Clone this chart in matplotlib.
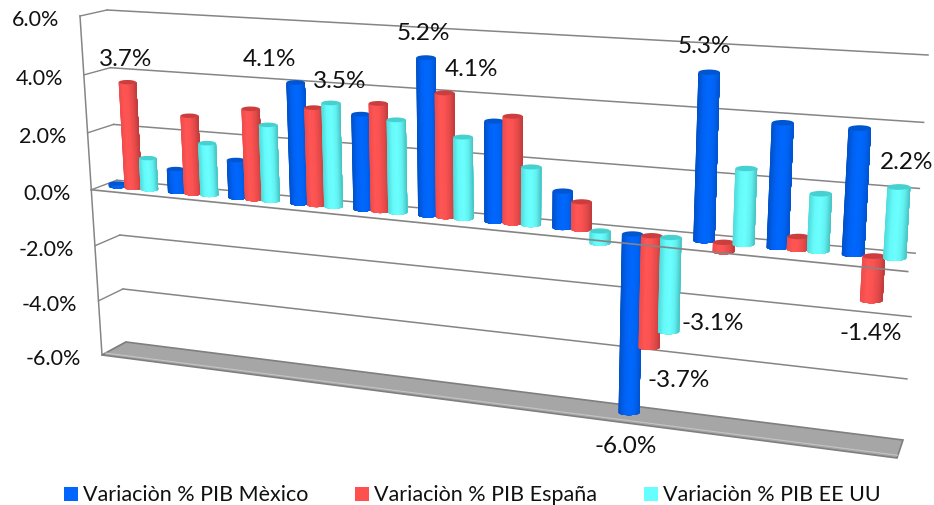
import numpy as np
import matplotlib as mpl
mpl.use('Agg')
import matplotlib.pyplot as plt
from matplotlib.patches import Ellipse, Polygon, Rectangle

plt.rcParams['font.family'] = ['Lato', 'DejaVu Sans']

# GDP variation per year, in percent
mexico = [0.1, 0.8, 1.3, 4.1, 3.2, 5.2, 3.3, 1.2, -6.0, 5.3, 3.9, 3.9]
espana = [3.7, 2.7, 3.1, 3.3, 3.6, 4.1, 3.5, 0.9, -3.7, -0.3, 0.4, -1.4]
eeuu = [1.1, 1.8, 2.6, 3.5, 3.1, 2.7, 1.9, -0.4, -3.1, 2.4, 1.8, 2.2]
series_names = ['Variaciòn % PIB Mèxico', 'Variaciòn % PIB España', 'Variaciòn % PIB EE UU']
yticks = [6, 4, 2, 0, -2, -4, -6]

# label offsets (px) from the end of the bar: (category, series): (dx, dy)
label_offsets = {(0, 1): (-2, -24), (3, 0): (-26, -24), (3, 2): (9, -22),
                 (5, 0): (-2, -25), (5, 1): (27, -24), (9, 0): (-5, -27),
                 (11, 2): (8, -25), (8, 0): (-3, 33), (8, 1): (30, 32),
                 (8, 2): (44, -9), (11, 1): (0, 32)}

legend_x = [64, 355, 644]
legend_colors = ['#0066ff', '#ff5050', '#66ffff']
blue_shade = ['#0052c8', '#0062f4', '#0068ff', '#0064f4', '#0054d0']
red_shade = ['#f04c4c', '#ff5555', '#fb5252', '#e44a4a', '#c03c3c']
cyan_shade = ['#50dcdc', '#66fafa', '#6cffff', '#62f0f0', '#48c4c4']
cap_colors = ['#0056d0', '#cc3e3e', '#46d0d0']
grid_color = '#858585'


def fit_homography(src, dst):
    A = []
    b = []
    for (x, y), (X, Y) in zip(src, dst):
        A.append([x, y, 1, 0, 0, 0, -x*X, -y*X])
        A.append([0, 0, 0, x, y, 1, -x*Y, -y*Y])
        b.extend([X, Y])
    h = np.linalg.solve(np.array(A, float), np.array(b, float))
    return np.append(h, 1.0).reshape(3, 3)


square = [(0, 6), (12, 6), (12, -6), (0, -6)]
H_back = fit_homography(square, [(107, 11), (928, 56), (903, 441), (126, 343)])
H_front = fit_homography(square, [(80, 17), (919, 75), (897, 459), (102, 356)])


def apply_h(H, u, v):
    p = H @ np.array([u, v, 1.0])
    return p[:2]/p[2]


def project(u, v, depth=0.5):
    # depth 0 is the back wall, 1 the front of the floor
    return (1-depth)*apply_h(H_back, u, v) + depth*apply_h(H_front, u, v)


def bar_point(u, v):
    # the row of bars drifts slightly towards the back wall on the right
    return project(u, v, 0.5-0.0125*u)


fig = plt.figure(figsize=(9.34, 5.06), dpi=100)
ax = fig.add_axes([0, 0, 1, 1])
ax.set_xlim(0, 934)
ax.set_ylim(506, 0)
ax.axis('off')

# walls
for v in yticks[:-1]:
    p0, p1 = project(0, v, 0), project(12, v, 0)
    ax.plot([p0[0], p1[0]], [p0[1], p1[1]], color=grid_color, lw=1.1, zorder=1)
for v in yticks:
    p0, p1 = project(0, v, 1), project(0, v, 0)
    ax.plot([p0[0], p1[0]], [p0[1], p1[1]], color=grid_color, lw=1.0, zorder=1)
    ax.text(p0[0]-21, p0[1]+3, '%.1f%%' % v, ha='right', va='center',
            fontsize=15.5, color='#111111', zorder=60)
p0, p1 = project(0, 6, 1), project(0, -6, 1)
ax.plot([p0[0], p1[0]], [p0[1], p1[1]], color=grid_color, lw=1.1, zorder=1)

# floor
corners = [project(0, -6, 0), project(12, -6, 0), project(12, -6, 1), project(0, -6, 1)]
ax.add_patch(Polygon(corners, closed=True, facecolor='#a6a6a6', edgecolor='#7f7f7f', lw=1.2, zorder=1.5))
p0, p1 = project(0, -6, 0.85), project(12, -6, 0.85)
ax.plot([p0[0], p1[0]], [p0[1], p1[1]], color='#c4c4c4', lw=0.8, zorder=1.6)


def shade(colors, p):
    rgb = np.array([mpl.colors.to_rgb(c) for c in colors])
    pos = np.linspace(0, 1, len(colors))
    return [np.interp(p, pos, rgb[:, i]) for i in range(3)]


def cylinder(u, width, value, colors, cap, z):
    end = bar_point(u, value)
    zero = bar_point(u, 0)
    a = (bar_point(u+width/2, 0)[0] - bar_point(u-width/2, 0)[0])/2
    b = a*0.25
    if value >= 0:
        top, base = end, zero
    else:
        top, base = zero, end
    # each slice runs to the right edge and the next one paints over it, so no seams show
    theta = np.linspace(np.pi, 0, 41)
    for k in range(len(theta)-1):
        t = theta[k:]
        xs = np.concatenate([top[0]+a*np.cos(t), base[0]+a*np.cos(t[::-1])])
        ys = np.concatenate([top[1]+b*np.sin(t), base[1]+b*np.sin(t[::-1])])
        face = shade(colors, (np.cos(t[0])+1)/2)
        ax.fill(xs, ys, color=face, lw=0, zorder=z)
    ax.add_patch(Ellipse(top, 2*a, 2*b, facecolor=cap, edgecolor='none', zorder=z+0.1))
    return base if value < 0 else top


# bars, left to right
all_series = [mexico, espana, eeuu]
shades = [blue_shade, red_shade, cyan_shade]
z = 2.0
for i in range(12):
    for s in range(3):
        u = i+0.5+(s-1)*0.27
        value = all_series[s][i]
        end = cylinder(u, 0.295, value, shades[s], cap_colors[s], z)
        z += 0.5
        if (i, s) in label_offsets:
            dx, dy = label_offsets[(i, s)]
            ax.text(end[0]+dx, end[1]+dy, '%.1f%%' % value, ha='center', va='center',
                    fontsize=17.5, color='#111111', zorder=60)

# front edge of the zero plane runs over the bars
p0, p1 = project(0, 0, 1), project(12, 0, 1)
ax.plot([p0[0], p1[0]], [p0[1], p1[1]], color=grid_color, lw=1.2, zorder=50)

# legend
for x, c, name in zip(legend_x, legend_colors, series_names):
    ax.add_patch(Rectangle((x, 488), 14, 14, facecolor=c, edgecolor='none', zorder=60))
    ax.text(x+19, 495, name, ha='left', va='center', fontsize=15.5, color='#111111', zorder=60)

plt.savefig('out.png', dpi=100)
